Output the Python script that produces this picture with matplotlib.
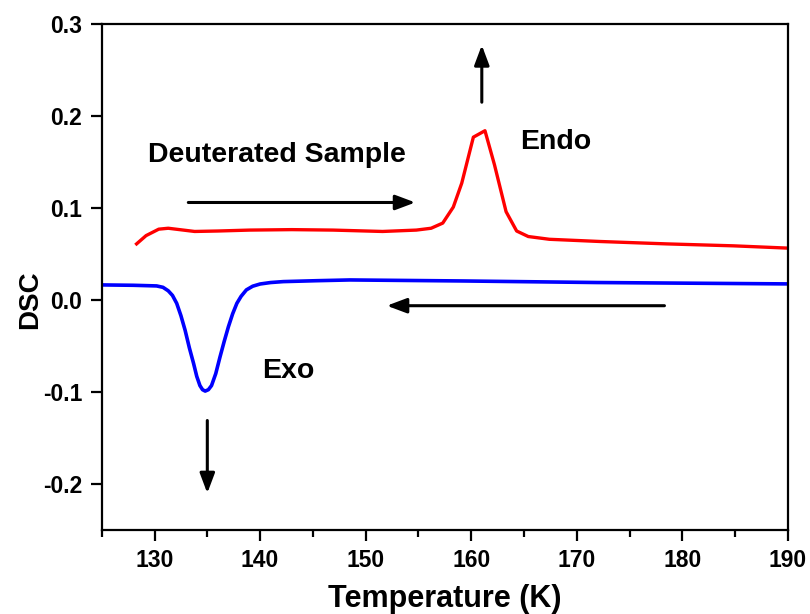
import matplotlib
matplotlib.use("Agg")
import matplotlib.pyplot as plt
from matplotlib.ticker import MultipleLocator

plt.rcParams['font.family'] = ['Liberation Sans', 'DejaVu Sans']
plt.rcParams['font.weight'] = 'bold'

# heating curve (red)
heat_T = [128.3, 129.2, 130.4, 131.3, 133.8, 136.0, 139.0, 143.0, 146.9, 151.6,
          154.8, 156.2, 157.3, 158.3, 159.1, 160.2, 161.3, 162.2, 163.3, 164.3,
          165.4, 167.4, 172.2, 178.5, 184.8, 190.0]
heat_dsc = [0.061, 0.070, 0.077, 0.078, 0.0745, 0.075, 0.076, 0.0765, 0.076, 0.0745,
            0.076, 0.078, 0.0836, 0.101, 0.127, 0.177, 0.184, 0.147, 0.096, 0.075,
            0.069, 0.066, 0.0636, 0.061, 0.0589, 0.0564]

# cooling curve (blue)
cool_T = [125.0, 128.0, 130.2, 130.8, 131.3, 131.7, 132.1, 132.5, 132.9, 133.3,
          133.7, 134.0, 134.3, 134.55, 134.8, 135.1, 135.4, 135.8, 136.2, 136.6,
          137.0, 137.4, 137.8, 138.2, 138.7, 139.3, 140.0, 141.0, 142.2, 145.4,
          148.5, 159.2, 171.9, 190.0]
cool_dsc = [0.0164, 0.016, 0.0153, 0.0138, 0.010, 0.005, -0.0036, -0.017, -0.033, -0.052,
            -0.069, -0.083, -0.093, -0.0975, -0.099, -0.0975, -0.093, -0.080, -0.062, -0.045,
            -0.029, -0.015, -0.0036, 0.004, 0.011, 0.015, 0.0174, 0.019, 0.020, 0.021,
            0.0218, 0.0207, 0.019, 0.0175]

fig = plt.figure(figsize=(8.1, 6.14), dpi=100)
ax = fig.add_axes([0.1256, 0.1368, 0.8472, 0.8241])

ax.plot(heat_T, heat_dsc, color="red", lw=2.4)
ax.plot(cool_T, cool_dsc, color="blue", lw=2.6, solid_joinstyle="round")

arr = dict(arrowstyle="-|>,head_length=1.2,head_width=0.45", color="black", lw=2.2,
           shrinkA=0, shrinkB=0)
ax.annotate("", xy=(154.7, 0.106), xytext=(133.2, 0.106), arrowprops=arr)
ax.annotate("", xy=(152.0, -0.0062), xytext=(178.3, -0.0062), arrowprops=arr)
ax.annotate("", xy=(161.0, 0.277), xytext=(161.0, 0.215), arrowprops=arr)
ax.annotate("", xy=(135.0, -0.210), xytext=(135.0, -0.131), arrowprops=arr)

ax.text(129.4, 0.158, "Deuterated Sample", fontsize=20.5, fontweight="bold", va="center")
ax.text(164.6, 0.1715, "Endo", fontsize=20.5, fontweight="bold", va="center")
ax.text(140.2, -0.077, "Exo", fontsize=20.5, fontweight="bold", va="center")

ax.set_xlim(125, 190)
ax.set_ylim(-0.25, 0.3)
ax.xaxis.set_major_locator(MultipleLocator(10))
ax.xaxis.set_minor_locator(MultipleLocator(5))
ax.set_yticks([-0.2, -0.1, 0.0, 0.1, 0.2, 0.3])
ax.set_yticklabels(["-0.2", "-0.1", "0.0", "0.1", "0.2", "0.3"])

for s in ax.spines.values():
    s.set_linewidth(1.6)
ax.tick_params(which="major", direction="out", length=8, width=1.6, labelsize=16.5, pad=6)
ax.tick_params(which="minor", direction="out", length=5, width=1.6)
ax.tick_params(top=False, right=False, which="both")
for lbl in ax.get_xticklabels() + ax.get_yticklabels():
    lbl.set_fontweight("bold")

ax.set_xlabel("Temperature (K)", fontsize=22, fontweight="bold", labelpad=8)
ax.set_ylabel("DSC", fontsize=20, fontweight="bold")
ax.yaxis.set_label_coords(-0.085, 0.456)

fig.savefig("out.png", dpi=100)
